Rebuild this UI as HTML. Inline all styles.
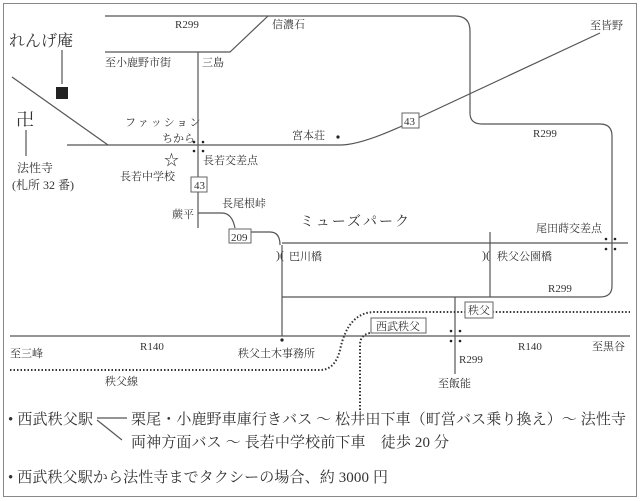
<!DOCTYPE html>
<html><head><meta charset="utf-8"><style>
body{margin:0;background:#fff}
svg{display:block}
text{font-family:"Liberation Serif","Noto Serif CJK SC",serif;fill:#333}
</style></head><body>
<svg width="640" height="501" viewBox="0 0 640 501" xmlns="http://www.w3.org/2000/svg">
<rect x="3.5" y="3.5" width="633" height="493" fill="none" stroke="#888" stroke-width="1"/>
<g fill="none" stroke="#555" stroke-width="1.2">
<path d="M105 16 H455 Q470 16 470 31 V113 Q470 124 482 124 H600 Q612 124 612 136 V286 Q612 297 600 297 H282"/>
<path d="M105 52 H230 L268 16"/>
<path d="M198 52 V228"/>
<path d="M67 145 H340 Q360 145 402 126"/>
<path d="M418 118 L600 33"/>
<path d="M12 77 L108 145"/>
<path d="M62 50 V84"/>
<path d="M26 130 V156"/>
<path d="M198 213 H222 Q232 213 235 228"/>
<path d="M251 232 H270 Q280 232 280 245"/>
<path d="M282 243 H628"/>
<path d="M282 245 V336"/>
<path d="M490 232 V297"/>
<path d="M455 297 V374"/>
<path d="M10 336 H630"/>
<path d="M97 418 H127 M97 420 L122 440"/>
</g>
<g fill="none" stroke="#333" stroke-width="2" stroke-dasharray="1.5 2">
<path d="M10 370 H320 Q335 370 340 350 Q348 312 375 312 H630"/>
<path d="M360 410 V345 Q360 335 370 333"/>
</g>
<rect x="56" y="87" width="12" height="12" fill="#222"/>
<g fill="#222">
<circle cx="194" cy="142" r="1.3"/><circle cx="203" cy="142" r="1.3"/><circle cx="194" cy="151" r="1.3"/><circle cx="203" cy="151" r="1.3"/>
<circle cx="606" cy="239" r="1.3"/><circle cx="615" cy="239" r="1.3"/><circle cx="606" cy="249" r="1.3"/><circle cx="615" cy="249" r="1.3"/>
<circle cx="451" cy="331" r="1.3"/><circle cx="460" cy="331" r="1.3"/><circle cx="451" cy="341" r="1.3"/><circle cx="460" cy="341" r="1.3"/>
<circle cx="338" cy="137" r="1.6"/><circle cx="282" cy="340" r="1.6"/>
</g>
<g fill="#fff" stroke="#666">
<rect x="191" y="177" width="16" height="15"/>
<rect x="402" y="113" width="17" height="15"/>
<rect x="229" y="229" width="22" height="14"/>
<rect x="371" y="318" width="55" height="15"/>
<rect x="465" y="302" width="28" height="16"/>
</g>
<g font-size="11">
<text x="194" y="189">43</text><text x="404" y="125">43</text><text x="231" y="241">209</text>
<text x="376" y="330">西武秩父</text><text x="468" y="314">秩父</text>
<text x="175" y="28">R299</text><text x="272" y="28">信濃石</text>
<text x="105" y="66">至小鹿野市街</text><text x="202" y="66">三島</text>
<text x="125" y="126" letter-spacing="2">ファッション</text><text x="162" y="142">ちから</text>
<text x="292" y="139">宮本荘</text><text x="590" y="29">至皆野</text>
<text x="533" y="137">R299</text>
<text x="203" y="164">長若交差点</text><text x="120" y="180">長若中学校</text>
<text x="172" y="218">蕨平</text><text x="222" y="207">長尾根峠</text>
<text x="536" y="232">尾田蒔交差点</text>
<text x="289" y="260">巴川橋</text><text x="497" y="260">秩父公園橋</text>
<text x="276" y="259" font-size="12">)(</text><text x="482" y="259" font-size="12">)(</text>
<text x="548" y="292">R299</text>
<text x="10" y="357">至三峰</text><text x="140" y="350">R140</text>
<text x="238" y="357">秩父土木事務所</text>
<text x="518" y="350">R140</text><text x="592" y="350">至黒谷</text>
<text x="459" y="363">R299</text><text x="438" y="387">至飯能</text>
<text x="105" y="385">秩父線</text>
<text x="17" y="172" font-size="12">法性寺</text><text x="12" y="189" font-size="12">(札所 32 番)</text>
</g>
<text x="9" y="46" font-size="16">れんげ庵</text>
<text x="16" y="126" font-size="18">卍</text>
<text x="164" y="165" font-size="15">☆</text>
<text x="300" y="226" font-size="14" letter-spacing="2">ミューズパーク</text>
<g font-size="15">
<text x="8" y="424" textLength="85">• 西武秩父駅</text>
<text x="131" y="424" textLength="495">栗尾・小鹿野車庫行きバス ～ 松井田下車（町営バス乗り換え）～ 法性寺</text>
<text x="131" y="447" textLength="318">両神方面バス ～ 長若中学校前下車　徒歩 20 分</text>
<text x="8" y="482" textLength="380">• 西武秩父駅から法性寺までタクシーの場合、約 3000 円</text>
</g>
</svg>
</body></html>
